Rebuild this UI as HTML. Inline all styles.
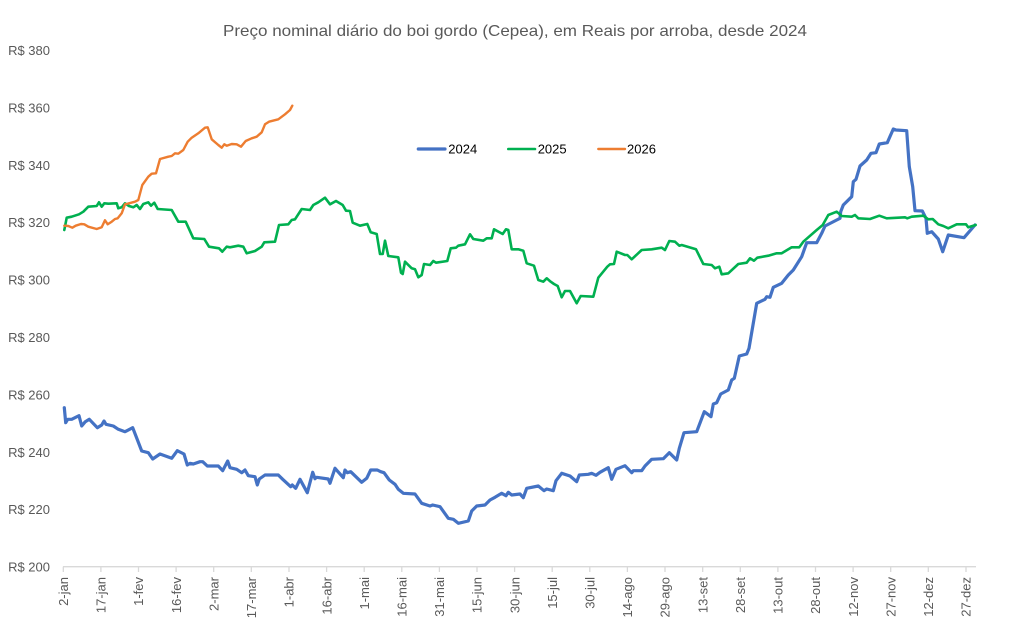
<!DOCTYPE html>
<html><head><meta charset="utf-8"><style>
html,body{margin:0;padding:0;background:#fff;}
svg{display:block;}
text{font-family:"Liberation Sans",sans-serif;}
</style></head><body>
<svg width="1029" height="629" viewBox="0 0 1029 629" xmlns="http://www.w3.org/2000/svg">
<rect width="1029" height="629" fill="#fff"/>
<text x="515" y="36" text-anchor="middle" font-size="16" fill="#595959" textLength="584" lengthAdjust="spacingAndGlyphs">Preço nominal diário do boi gordo (Cepea), em Reais por arroba, desde 2024</text>
<g font-size="13" fill="#595959" text-anchor="end">
<text x="50" y="55">R$ 380</text>
<text x="50" y="112.4">R$ 360</text>
<text x="50" y="169.8">R$ 340</text>
<text x="50" y="227.2">R$ 320</text>
<text x="50" y="284.6">R$ 300</text>
<text x="50" y="342">R$ 280</text>
<text x="50" y="399.4">R$ 260</text>
<text x="50" y="456.8">R$ 240</text>
<text x="50" y="514.2">R$ 220</text>
<text x="50" y="571.6">R$ 200</text>
</g>
<line x1="63" y1="566.7" x2="976" y2="566.7" stroke="#d9d9d9" stroke-width="1.3"/>
<g stroke="#d9d9d9" stroke-width="1.3">
<line x1="63.3" y1="566.7" x2="63.3" y2="572"/><line x1="100.9" y1="566.7" x2="100.9" y2="572"/><line x1="138.5" y1="566.7" x2="138.5" y2="572"/><line x1="176.1" y1="566.7" x2="176.1" y2="572"/><line x1="213.7" y1="566.7" x2="213.7" y2="572"/><line x1="251.3" y1="566.7" x2="251.3" y2="572"/><line x1="289" y1="566.7" x2="289" y2="572"/><line x1="326.6" y1="566.7" x2="326.6" y2="572"/><line x1="364.2" y1="566.7" x2="364.2" y2="572"/><line x1="401.8" y1="566.7" x2="401.8" y2="572"/><line x1="439.4" y1="566.7" x2="439.4" y2="572"/><line x1="477" y1="566.7" x2="477" y2="572"/><line x1="514.6" y1="566.7" x2="514.6" y2="572"/><line x1="552.2" y1="566.7" x2="552.2" y2="572"/><line x1="589.8" y1="566.7" x2="589.8" y2="572"/><line x1="627.4" y1="566.7" x2="627.4" y2="572"/><line x1="665" y1="566.7" x2="665" y2="572"/><line x1="702.7" y1="566.7" x2="702.7" y2="572"/><line x1="740.3" y1="566.7" x2="740.3" y2="572"/><line x1="777.9" y1="566.7" x2="777.9" y2="572"/><line x1="815.5" y1="566.7" x2="815.5" y2="572"/><line x1="853.1" y1="566.7" x2="853.1" y2="572"/><line x1="890.7" y1="566.7" x2="890.7" y2="572"/><line x1="928.3" y1="566.7" x2="928.3" y2="572"/><line x1="966" y1="566.7" x2="966" y2="572"/>
</g>
<g font-size="13" fill="#595959" text-anchor="end">
<text transform="translate(68,577) rotate(-90)">2-jan</text>
<text transform="translate(105.6,577) rotate(-90)">17-jan</text>
<text transform="translate(143.2,577) rotate(-90)">1-fev</text>
<text transform="translate(180.8,577) rotate(-90)">16-fev</text>
<text transform="translate(218.4,577) rotate(-90)">2-mar</text>
<text transform="translate(256,577) rotate(-90)">17-mar</text>
<text transform="translate(293.7,577) rotate(-90)">1-abr</text>
<text transform="translate(331.3,577) rotate(-90)">16-abr</text>
<text transform="translate(368.9,577) rotate(-90)">1-mai</text>
<text transform="translate(406.5,577) rotate(-90)">16-mai</text>
<text transform="translate(444.1,577) rotate(-90)">31-mai</text>
<text transform="translate(481.7,577) rotate(-90)">15-jun</text>
<text transform="translate(519.3,577) rotate(-90)">30-jun</text>
<text transform="translate(556.9,577) rotate(-90)">15-jul</text>
<text transform="translate(594.5,577) rotate(-90)">30-jul</text>
<text transform="translate(632.1,577) rotate(-90)">14-ago</text>
<text transform="translate(669.7,577) rotate(-90)">29-ago</text>
<text transform="translate(707.4,577) rotate(-90)">13-set</text>
<text transform="translate(745,577) rotate(-90)">28-set</text>
<text transform="translate(782.6,577) rotate(-90)">13-out</text>
<text transform="translate(820.2,577) rotate(-90)">28-out</text>
<text transform="translate(857.8,577) rotate(-90)">12-nov</text>
<text transform="translate(895.4,577) rotate(-90)">27-nov</text>
<text transform="translate(933,577) rotate(-90)">12-dez</text>
<text transform="translate(970.7,577) rotate(-90)">27-dez</text>
</g>
<g fill="none" stroke-linejoin="round" stroke-linecap="round">
<polyline stroke="#4472C4" stroke-width="3.2" points="64.3,407.7 65.7,422.7 67.7,419.3 71.7,419.3 79,415.7 81.7,426 85.3,421.7 89.3,419.3 97.3,427.7 101.7,425 104,421 106,424.3 113.3,426 118.3,429.3 125,431.7 132.7,427.7 141.7,451 148.3,452.7 152.7,459 160,454 171.7,458.3 177.3,450.7 184,454 187.3,465 190,463.3 193.3,464 200,461.7 202.7,461.7 207.3,466 218.3,466 222.7,470.7 227.7,461 230,467.7 236.7,469.3 241.7,472.7 245,470 248.3,475.7 255,476.7 257.3,485 259.3,479 265,475 278.3,475 282.7,479.3 290.7,486.7 292.3,485 295.7,488.3 300,479.3 307.3,492.7 312.7,472.3 315,478.7 316.7,477.3 328.3,479 330,483.3 335,468.3 343.3,477.7 345,470 347.3,472.7 350.7,471.7 361.7,482.3 366.7,478.3 370.7,470 377.3,470 380.7,471.7 384,472.7 389.3,480 395,484.3 398.3,489.3 403.3,493.3 415,494 421.7,503.3 430,506 432.7,505 440,506.7 448.3,518.3 453.3,519.3 458.3,523.3 468.3,521 471.7,511 476.7,506 485,505 490,500 495,497.3 501.7,493.3 506,495.7 508.3,492.3 511.7,495 520,494 523.3,497.7 526.7,488.3 538.3,486 544,490.7 546.7,489 553.3,490.7 556,480.7 561.7,473.3 570,476 576.7,481.7 579.3,475 588.3,474.3 591.7,473.3 596,475.3 600,472.3 608.3,467.7 611.7,479.3 616,469.3 625,465.7 631.7,472.7 633.3,470.7 641.7,470.7 645,466 651.7,459.3 663.3,458.7 669.3,452.7 676.7,460 679.3,448.3 684,432.7 696.7,431.7 704.3,411.7 711,416.7 713.3,404 716.7,402.7 720.7,394 728.3,390 731.7,380 734.3,378.3 739.3,356 746.7,354 749,348.3 756.7,303.3 765,299.3 766.7,296.7 770,297.3 773.3,287.3 781.7,283.3 788.3,275 793.3,270 801.7,256.7 806.7,242.7 816.7,242.7 821.7,233.3 825,226 836.7,220 840,218.3 840.7,211.7 843.3,205 851.7,196.7 853.3,181.7 856,179.3 860,166 866.7,160 871,153.3 876,152.7 879.3,144 887.3,142.7 893.3,129 896,130 906.7,130.7 909.3,166.7 912.7,186.7 915,210.7 922.3,211 926,218.3 927.3,233.3 931.7,231.7 938.3,239 942.7,251.7 948.3,235 964,237.7 975,225"/>
<polyline stroke="#00B050" stroke-width="2.6" points="64.3,230 66.7,217.7 71.7,216.7 79,214.3 83.3,211.7 88.3,206.7 96.7,206 99,202.3 101.7,206.7 104.3,203.3 108.3,203.7 116.7,203.3 118.3,208.3 121.7,207.3 125,203.3 129,206 133.3,207.3 136.7,205 140,209 143.3,204 148.3,202.3 151,205.7 154.3,202.7 157.7,209 171.7,210 178.3,221.7 185.7,221.7 193.3,238.3 204.3,239 209,246.7 219,248.3 222.3,251.7 226.7,246.7 230,247.3 238.3,245.7 243.3,246.7 246.7,253.3 255,251 261.7,246.7 264.3,242.3 275,241.7 279,225 288.3,224.3 291.7,220 295,219.3 301.7,209 310,210 313.3,205 318.3,202.3 325,197.7 330,204.3 336,201 342.7,205 346,210.7 350,211 352.7,222.7 360,225.7 367.3,224 370.7,232.3 376.7,234 380,254 382.7,254 385,240.7 388.3,256 398.3,257.3 401,272.7 402.7,274 405,261.7 411.7,268.3 415,269.3 418.3,277.3 421.7,275 424,264 430,265 433.3,261 436,262.7 447.3,261 450.7,248.3 456,247.7 458.3,245.7 465,244.3 470,234.3 473.3,239 483.3,240.7 486.7,238.3 491.7,238.3 494,229.3 502.7,234 506,229.3 508.3,230 511.7,249.3 518.3,249.3 523.3,250.7 526.7,263.3 534,265.7 538.3,280 543.3,281.7 546.7,278.3 550.7,281.7 554,284 557.7,286 561.7,297.3 565,291 570,291 576.7,303.3 580.7,296 593.3,296.7 598.3,277.7 607.3,266.7 610,264.3 614,264 616.7,251.7 625,255 627.3,255 631.7,259.3 641.7,250 651.7,249.3 661.7,247.7 665,250 669.3,241 675,241.7 679.3,245.7 681.7,245 696,249.3 703.3,264 711.7,265 715,268.3 719.3,266.7 721.7,274.3 728.3,273.3 738.3,264 746.7,262.7 750,258.3 754,260.7 757.3,257.7 768.3,255.7 776.7,253.3 781.7,253.3 791.7,247.3 799.3,247.3 803.3,241.7 816.7,230 822.7,225 828.3,215 836.7,211.7 841.7,216 851.7,216.7 855,215 858.3,218.3 870,219 879.3,215.7 886.7,218.3 905,217.3 907.3,218.3 911.7,216.7 923.3,215.7 928.3,219.3 932.7,219 938.3,224.3 943.3,226 948.3,228.3 956.7,224.3 966,224.3 968.3,227.3 975.7,225"/>
<polyline stroke="#ED7D31" stroke-width="2.4" points="64.3,225.7 68.3,226 72.3,227.7 75.7,225.7 81,224 84.3,224.3 88.3,226.7 96.7,229 101.7,227.3 105,220.3 107.7,224.3 111.7,221.7 115,219 117.7,218.3 121.7,213.3 125,204.3 129,203.3 135,201.7 138.3,200 142.3,185 148.3,176.7 151.7,173.7 156,173.3 160,159 168.3,156.7 171.7,156 175,153.3 178.3,153.7 183.3,150 187.7,141.7 191.7,137.7 198.3,133.3 205,127.7 207.7,127.3 211.7,139.3 218.3,145 221.7,147.7 224.3,144.3 226.7,145.7 231.7,144 236.7,144.3 241,146.7 245.7,141 251.7,138.3 256.7,136.7 261.7,132.3 265,124.3 269,121.7 278.3,119.3 285,114.3 290,110 292.3,105.7"/>
</g>
<line x1="418.3" y1="149" x2="445" y2="149" stroke="#4472C4" stroke-width="3.2" stroke-linecap="round"/>
<text x="448.3" y="153.5" font-size="13" fill="#000">2024</text>
<line x1="508.3" y1="149" x2="535" y2="149" stroke="#00B050" stroke-width="2.6" stroke-linecap="round"/>
<text x="537.7" y="153.5" font-size="13" fill="#000">2025</text>
<line x1="598.3" y1="149" x2="625" y2="149" stroke="#ED7D31" stroke-width="2.4" stroke-linecap="round"/>
<text x="627" y="153.5" font-size="13" fill="#000">2026</text>
</svg>
</body></html>
